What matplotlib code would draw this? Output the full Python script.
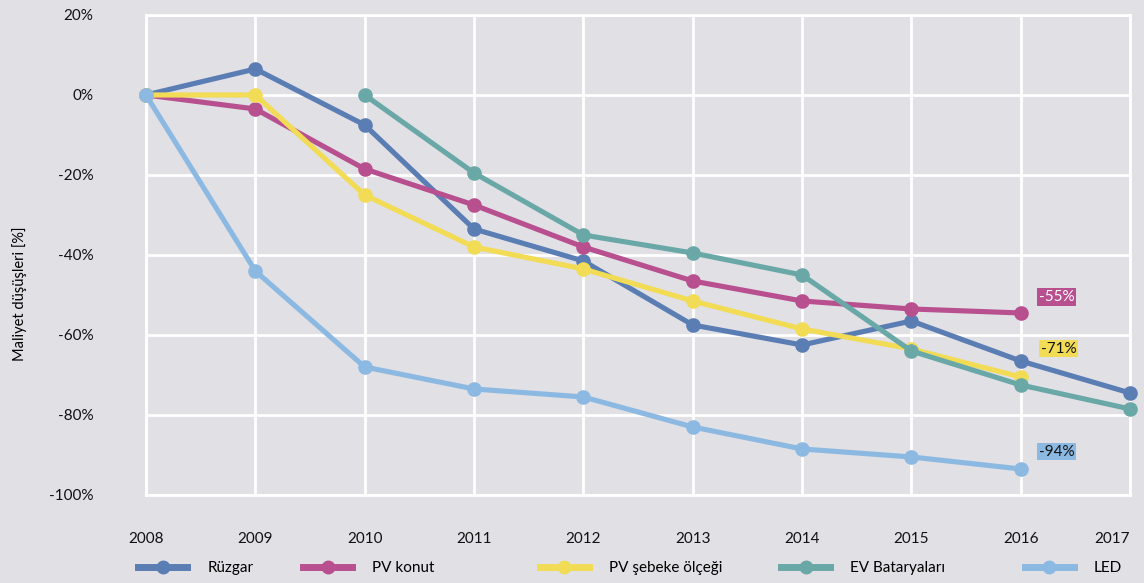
import matplotlib.pyplot as plt
from matplotlib.lines import Line2D

plt.rcParams['font.family'] = ['Lato', 'DejaVu Sans']

# values (cost change vs 2008, %)
years = [2008, 2009, 2010, 2011, 2012, 2013, 2014, 2015, 2016, 2017]
ruzgar = [0, 6.5, -7.5, -33.5, -41.5, -57.5, -62.5, -56.5, -66.5, -74.5]
years_pv = [2008, 2009, 2010, 2011, 2012, 2013, 2014, 2015, 2016]
pv_konut = [0, -3.5, -18.5, -27.5, -38.0, -46.5, -51.5, -53.5, -54.5]
pv_sebeke = [0, 0, -25.0, -38.0, -43.5, -51.5, -58.5, -63.5, -70.5]
years_ev = [2010, 2011, 2012, 2013, 2014, 2015, 2016, 2017]
ev = [0, -19.5, -35.0, -39.5, -45.0, -64.0, -72.5, -78.5]
led = [0, -44.0, -68.0, -73.5, -75.5, -83.0, -88.5, -90.5, -93.5]

yticks = [20, 0, -20, -40, -60, -80, -100]

series = [
    ("Rüzgar", years, ruzgar, "#5a7db4"),
    ("PV konut", years_pv, pv_konut, "#b84f8f"),
    ("PV şebeke ölçeği", years_pv, pv_sebeke, "#f2dc55"),
    ("EV Bataryaları", years_ev, ev, "#6aa8a8"),
    ("LED", years_pv, led, "#8cb9e2"),
]

bg = "#e1e0e5"
fig = plt.figure(figsize=(11.44, 5.83), dpi=100, facecolor=bg)
ax = fig.add_axes([0.1276, 0.151, 0.8602, 0.8233])
ax.set_facecolor(bg)

handles = []
for name, xs, ys, col in series:
    h, = ax.plot(xs, ys, color=col, lw=3.7, marker="o", markersize=9.5,
                 solid_capstyle="round", label=name, clip_on=False, zorder=3)
    handles.append(h)

ax.set_xlim(2008, 2017)
ax.set_ylim(-100, 20)
ax.set_xticks(years)
ax.set_yticks(yticks)
ax.set_yticklabels([f"{v}%" for v in yticks])
ax.grid(True, color="white", lw=2)
ax.set_axisbelow(True)
for s in ax.spines.values():
    s.set_color("white")
    s.set_linewidth(2)
ax.tick_params(axis="both", length=0, labelsize=11, colors="#111111")
ax.tick_params(axis="x", pad=27)
ax.tick_params(axis="y", pad=38)
# last year label sits at the right edge of the figure
xt = ax.get_xticklabels()
xt[-1].set_horizontalalignment("right")
xt[-1].set_x(2017.14)
ax.set_ylabel("Maliyet düşüşleri [%]", fontsize=10.5, labelpad=2)
ax.yaxis.set_label_coords(-0.121, 0.42)

# end labels for 2016
labels = [(pv_konut[-1], "-55%", "#b84f8f", "white", 36, 16),
          (pv_sebeke[-1], "-71%", "#f2dc55", "#111111", 38, 28),
          (led[-1], "-94%", "#8cb9e2", "#111111", 36, 17)]
for val, txt, bc, tc, dx, dy in labels:
    ax.annotate(txt, xy=(2016, val), xytext=(dx, dy), textcoords="offset pixels",
                ha="center", va="center", fontsize=11, color=tc,
                bbox=dict(boxstyle="square,pad=0.1", fc=bc, ec="none"))

# legend entries spaced like the original
leg_x = [0.121, 0.265, 0.472, 0.683, 0.896]
for h, lx in zip(handles, leg_x):
    lh = Line2D([], [], color=h.get_color(), lw=5, marker="o", markersize=9)
    fig.legend([lh], [h.get_label()], loc="center left", bbox_to_anchor=(lx, 0.025),
               frameon=False, fontsize=11, handlelength=3.2, handletextpad=1.3,
               borderaxespad=0, borderpad=0)

fig.savefig("out.png", dpi=100, facecolor=bg)
